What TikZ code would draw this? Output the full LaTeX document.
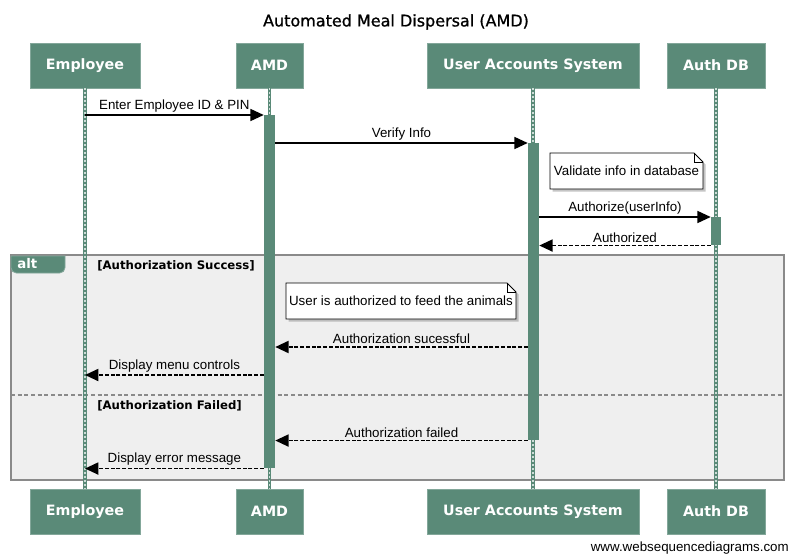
\documentclass[tikz,border=0pt]{standalone}
\usepackage{fontspec}
\setmainfont{Liberation Sans}
\newfontfamily\boxfont{DejaVu Sans}
\newfontfamily\titlefont[FakeBold=1]{DejaVu Sans}
\usepackage{tikz}
\usetikzlibrary{arrows.meta,shadows,calc}
\definecolor{actor}{HTML}{5A8A78}
\definecolor{altbg}{HTML}{EFEFEF}
\definecolor{altline}{HTML}{8A8A8A}
\tikzset{
  actor/.style={rectangle, fill=actor, draw=actor!75!white, line width=0.6pt, text=white,
    font=\boxfont\bfseries\fontsize{10.7}{12}\selectfont, minimum height=33.75pt, inner sep=0pt},
  life/.style={draw=actor, line width=2.3pt},
  lifedash/.style={draw=actor!30!white, line width=0.8pt, dash pattern=on 1.5pt off 1.5pt},
  bar/.style={rectangle, fill=actor, draw=none, inner sep=0pt, minimum width=8.25pt},
  msg/.style={draw=black, line width=1.2pt, -{Triangle[length=10pt,width=9pt]}},
  reply/.style={msg, line width=1.4pt, dash pattern=on 3pt off 1.3pt},
  lab/.style={font=\fontsize{10}{12}\selectfont, inner sep=1.5pt},
  note/.style={fill=white, draw=black, line width=0.6pt,
    drop shadow={shadow xshift=2pt, shadow yshift=-2pt, opacity=0.45}},
  guard/.style={font=\boxfont\bfseries\fontsize{8.8}{10}\selectfont, anchor=west, inner sep=0pt}
}
\begin{document}
\begin{tikzpicture}[x=0.75pt, y=-0.75pt]
  \useasboundingbox[fill=white] (0,0) rectangle (792,556);

  \node[font=\titlefont\fontsize{12}{14}\selectfont] (title) at (396,22) {Automated Meal Dispersal (AMD)};

  % participants
  \node[actor, minimum width=82.5pt]  (empT) at (85,65.5)  {Employee};
  \node[actor, minimum width=50.25pt] (amdT) at (269.5,65.5) {AMD};
  \node[actor, minimum width=159pt]   (uasT) at (533,65.5) {User Accounts System};
  \node[actor, minimum width=73.5pt]  (dbT)  at (716,65.5) {Auth DB};
  \node[actor, minimum width=82.5pt]  (empB) at (85,511.5)  {Employee};
  \node[actor, minimum width=50.25pt] (amdB) at (269.5,511.5) {AMD};
  \node[actor, minimum width=159pt]   (uasB) at (533,511.5) {User Accounts System};
  \node[actor, minimum width=73.5pt]  (dbB)  at (716,511.5) {Auth DB};

  % alt frame
  \filldraw[fill=altbg, draw=altline, line width=1.2pt] (11,255) rectangle (784,480);
  \fill[actor] (11,256) -- (65,256) {[rounded corners=4pt] -- (65,273) -- (11,273)} -- cycle;
  \node[font=\boxfont\bfseries\fontsize{10}{11}\selectfont, text=white, anchor=west, inner sep=0pt] (altTag) at (17,264) {alt};
  \draw[altline, line width=1.1pt, dash pattern=on 3pt off 2pt] (11,395) -- (784,395);
  \node[guard] (gOk) at (97,266) {[Authorization Success]};
  \node[guard] (gFail) at (97,406) {[Authorization Failed]};

  % lifelines
  \draw[life] (empT.south) -- (empB.north);
  \draw[life] (amdT.south) -- (amdB.north);
  \draw[life] (uasT.south) -- (uasB.north);
  \draw[life] (dbT.south) -- (dbB.north);
  \draw[lifedash] (empT.south) -- (empB.north);
  \draw[lifedash] (amdT.south) -- (amdB.north);
  \draw[lifedash] (uasT.south) -- (uasB.north);
  \draw[lifedash] (dbT.south) -- (dbB.north);

  % activations
  \node[bar, minimum height=264.75pt, anchor=north] (amdAct) at (269.5,115) {};
  \node[bar, minimum height=222.75pt, anchor=north] (uasAct) at (533.5,143) {};
  \node[bar, minimum width=7.5pt, minimum height=21pt, anchor=north] (dbAct) at (716,217) {};

  \coordinate (okY) at (0,347);
  \coordinate (menuY) at (0,375);

  % messages
  \draw[msg] (empT |- amdAct.north) -- node[lab, midway, above] {Enter Employee ID \& PIN} (amdAct.north west);
  \draw[msg] (amdAct.east |- uasAct.north) -- node[lab, midway, above] {Verify Info} (uasAct.north west);
  \draw[msg] (uasAct.east |- dbAct.north) -- node[lab, midway, above] {Authorize(userInfo)} (dbAct.north west);
  \draw[reply] (dbAct.south west) -- node[lab, midway, above] {Authorized} (uasAct.east |- dbAct.south);
  \draw[reply] (uasAct.west |- okY) -- node[lab, midway, above] {Authorization sucessful} (amdAct.east |- okY);
  \draw[reply] (amdAct.west |- menuY) -- node[lab, midway, above] {Display menu controls} (empT |- menuY);
  \draw[reply] (uasAct.south west) -- node[lab, midway, above] {Authorization failed} (amdAct.east |- uasAct.south);
  \draw[reply] (amdAct.south west) -- node[lab, midway, above] {Display error message} (empT |- amdAct.south);

  % notes
  \filldraw[note] (550,153) -- (694,153) -- (703,162) -- (703,189) -- (550,189) -- cycle;
  \draw[line width=0.6pt] (694,153) -- (694,162) -- (703,162);
  \node[lab] (noteA) at (626.5,171) {Validate info in database};
  \filldraw[note] (286,283) -- (507,283) -- (516,292) -- (516,319) -- (286,319) -- cycle;
  \draw[line width=0.6pt] (507,283) -- (507,292) -- (516,292);
  \node[lab] (noteB) at (401,301) {User is authorized to feed the animals};

  \node[anchor=east, lab] (wsd) at (791,548) {www.websequencediagrams.com};
\end{tikzpicture}
\end{document}
